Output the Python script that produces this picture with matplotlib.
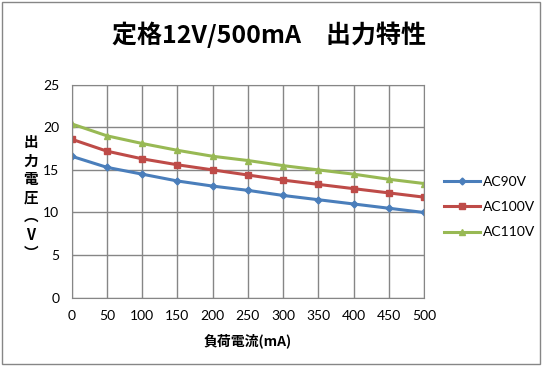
import matplotlib
matplotlib.use('Agg')
import matplotlib.pyplot as plt
from matplotlib.patches import Rectangle

# load current (mA) and output voltage (V)
current = [0, 50, 100, 150, 200, 250, 300, 350, 400, 450, 500]
ac90 = [16.6, 15.3, 14.5, 13.7, 13.1, 12.6, 12.0, 11.5, 11.0, 10.5, 10.0]
ac100 = [18.6, 17.2, 16.3, 15.6, 15.0, 14.4, 13.8, 13.3, 12.8, 12.3, 11.8]
ac110 = [20.4, 19.0, 18.1, 17.3, 16.6, 16.1, 15.5, 15.0, 14.5, 13.9, 13.4]

jp = ['Noto Sans CJK JP', 'DejaVu Sans']
latin = ['Lato', 'DejaVu Sans']

fig = plt.figure(figsize=(5.43, 3.66), dpi=100)
ax = fig.add_axes([0.132, 0.1866, 0.649, 0.582])

ax.plot(current, ac90, color='#4A7EBB', lw=2.2, marker='D', ms=3.5, label='AC90V')
ax.plot(current, ac100, color='#BE4B48', lw=2.2, marker='s', ms=4, label='AC100V')
ax.plot(current, ac110, color='#98B954', lw=2.2, marker='^', ms=4.5, label='AC110V')

ax.set_xlim(0, 500)
ax.set_ylim(0, 25)
ax.set_xticks(range(0, 501, 50))
ax.set_yticks(range(0, 26, 5))
ax.grid(True, color='#868686', lw=1)
ax.set_axisbelow(True)
for s in ax.spines.values():
    s.set_color('#868686')
ax.tick_params(length=0, pad=9, labelsize=10)
for lab in ax.get_xticklabels() + ax.get_yticklabels():
    lab.set_family(latin)

fig.text(0.495, 0.905, '定格12V/500mA\u3000出力特性', ha='center', va='center',
         fontsize=18, fontweight='bold', family=jp)
ax.set_xlabel('負荷電流(mA)', fontsize=10, fontweight='bold', family=jp, labelpad=8)
fig.text(0.057, 0.46, '出\n力\n電\n圧\n︵\nV\n︶', ha='center', va='center',
         fontsize=10.5, fontweight='bold', family=jp, linespacing=1.2)

leg = ax.legend(loc='center left', bbox_to_anchor=(1.02, 0.425), frameon=False,
                prop={'family': latin, 'size': 10}, handlelength=2.6,
                labelspacing=0.95, handletextpad=0.2)

fig.patches.append(Rectangle((0.004, 0.006), 0.99, 0.988, transform=fig.transFigure,
                             fill=False, ec='#868686', lw=1))

fig.savefig('out.png', dpi=100)
